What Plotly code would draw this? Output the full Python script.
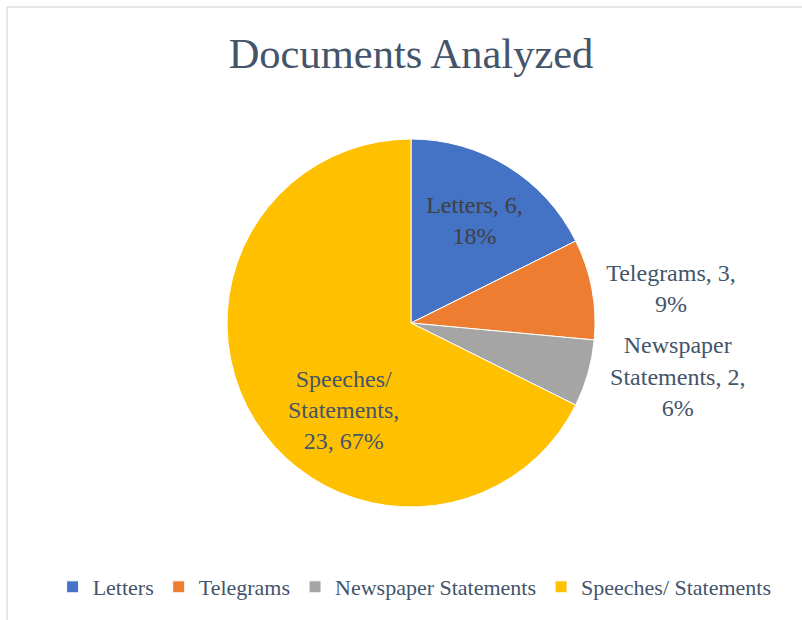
import plotly.graph_objects as go

categories = ["Letters", "Telegrams", "Newspaper Statements", "Speeches/ Statements"]
values = [6, 3, 2, 23]
percent_labels = ["18%", "9%", "6%", "67%"]
label_lines = [["Letters, 6,", "18%"],
               ["Telegrams, 3,", "9%"],
               ["Newspaper", "Statements, 2,", "6%"],
               ["Speeches/", "Statements,", "23, 67%"]]
colors = ["#4472C4", "#ED7D31", "#A5A5A5", "#FFC000"]
text_positions = ["inside", "outside", "outside", "none"]
text_colors = ["#404040", "#44546A", "#44546A", "#44546A"]

texts = ["<br>".join(lines) for lines in label_lines]

SERIF = "Liberation Serif"
W, H = 802, 620
cx, cy, r = 411, 323, 184

fig = go.Figure(go.Pie(
    labels=categories,
    values=values,
    text=texts,
    textinfo="text",
    hoverinfo="label+value+percent",
    textposition=text_positions,
    insidetextorientation="horizontal",
    textfont=dict(family=SERIF, size=24, color=text_colors),
    marker=dict(colors=colors, line=dict(color="white", width=1)),
    sort=False,
    direction="clockwise",
    rotation=0,
    domain=dict(x=[(cx - r) / W, (cx + r) / W], y=[(H - cy - r) / H, (H - cy + r) / H]),
))

# label of the large slice placed like the original (lower-left inside the slice)
fig.add_annotation(
    text=texts[3], xref="paper", yref="paper",
    x=(cx - 68) / W, y=(H - cy - 87) / H, xanchor="center", yanchor="middle",
    showarrow=False, align="center",
    font=dict(family=SERIF, size=24, color=text_colors[3]),
)

fig.update_layout(
    width=W, height=H,
    margin=dict(l=0, r=0, t=0, b=0),
    paper_bgcolor="white",
    plot_bgcolor="white",
    font=dict(family=SERIF, color="#44546A"),
    title=dict(text="Documents Analyzed", x=0.5125, xanchor="center", y=1 - 53 / H, yanchor="middle",
               yref="container", font=dict(family=SERIF, size=42.5, color="#44546A")),
    showlegend=True,
    legend=dict(orientation="h", x=0.517, xanchor="center", y=(H - 587) / H, yanchor="middle",
                font=dict(family=SERIF, size=22, color="#44546A"), itemwidth=30, tracegroupgap=0),
    shapes=[
        dict(type="line", xref="paper", yref="paper", x0=7 / W, x1=1.0, y0=1 - 7 / H, y1=1 - 7 / H,
             line=dict(color="#DDE0E4", width=1.5)),
        dict(type="line", xref="paper", yref="paper", x0=7 / W, x1=7 / W, y0=0, y1=1 - 7 / H,
             line=dict(color="#DDE0E4", width=1.5)),
    ],
)

fig.write_html("out.html")
